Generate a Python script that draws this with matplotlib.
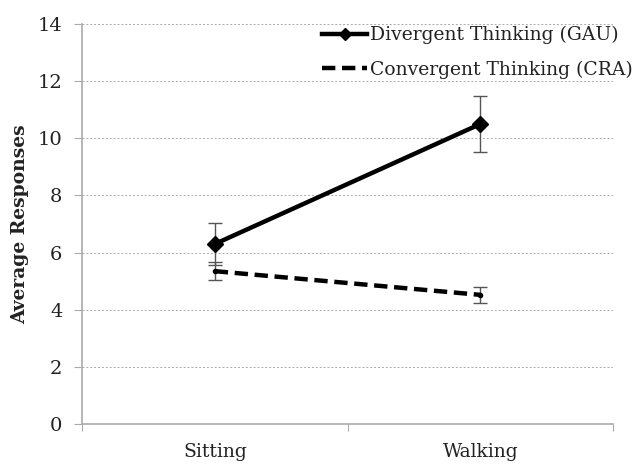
import matplotlib.pyplot as plt
from matplotlib.lines import Line2D

categories = ['Sitting', 'Walking']
gau_mean = [6.3, 10.5]
gau_err = [0.75, 0.97]
cra_mean = [5.35, 4.52]
cra_err = [0.32, 0.28]
yticks = [0, 2, 4, 6, 8, 10, 12, 14]

plt.rcParams['font.family'] = ['DejaVu Serif']

fig = plt.figure(figsize=(6.42, 4.66), dpi=100)
ax = fig.add_axes([0.1277, 0.0901, 0.8273, 0.8584])

xpos = [i + 0.5 for i in range(len(categories))]

ax.errorbar(xpos, gau_mean, yerr=gau_err, color='black', lw=3.2, marker='D',
            markersize=8, ecolor='#555555', elinewidth=1, capsize=5, capthick=1,
            zorder=3)
ax.errorbar(xpos, cra_mean, yerr=cra_err, color='black', lw=3.2, ls=(0, (3, 1.5)),
            marker='o', markersize=3, ecolor='#555555', elinewidth=1, capsize=5,
            capthick=1, zorder=3)

ax.set_xlim(0, 2)
ax.set_ylim(0, 14)
ax.set_yticks(yticks)
ax.set_xticks([0, 1, 2])
ax.set_xticklabels([])
ax.set_xticks(xpos, minor=True)
ax.set_xticklabels(categories, minor=True, fontsize=13.5, color='#222222')
ax.tick_params(axis='x', which='minor', length=0, pad=14)
ax.tick_params(axis='x', which='major', length=5, color='#aaaaaa', direction='out')
ax.tick_params(axis='y', length=6, color='#aaaaaa', labelsize=14, pad=8,
               labelcolor='#222222')

ax.yaxis.grid(True, ls=(0, (2, 2)), color='#aaaaaa', lw=0.7)
ax.set_axisbelow(True)
for s in ['top', 'right']:
    ax.spines[s].set_visible(False)
for s in ['left', 'bottom']:
    ax.spines[s].set_color('#aaaaaa')
    ax.spines[s].set_linewidth(1.2)

ax.set_ylabel('Average Responses', fontsize=13.5, fontweight='bold', labelpad=6,
              color='#222222')

handles = [
    Line2D([], [], color='black', lw=3.2, marker='D', markersize=6),
    Line2D([], [], color='black', lw=3.2, ls=(0, (3, 1.5))),
]
labels = ['Divergent Thinking (GAU)', 'Convergent Thinking (CRA)']
fig.legend(handles, labels, loc='upper left', bbox_to_anchor=(0.49, 0.96),
           frameon=False, fontsize=13.5, handlelength=2.4, handletextpad=0.15,
           labelspacing=0.85, borderaxespad=0, labelcolor='#222222')

fig.savefig('out.png', dpi=100)
